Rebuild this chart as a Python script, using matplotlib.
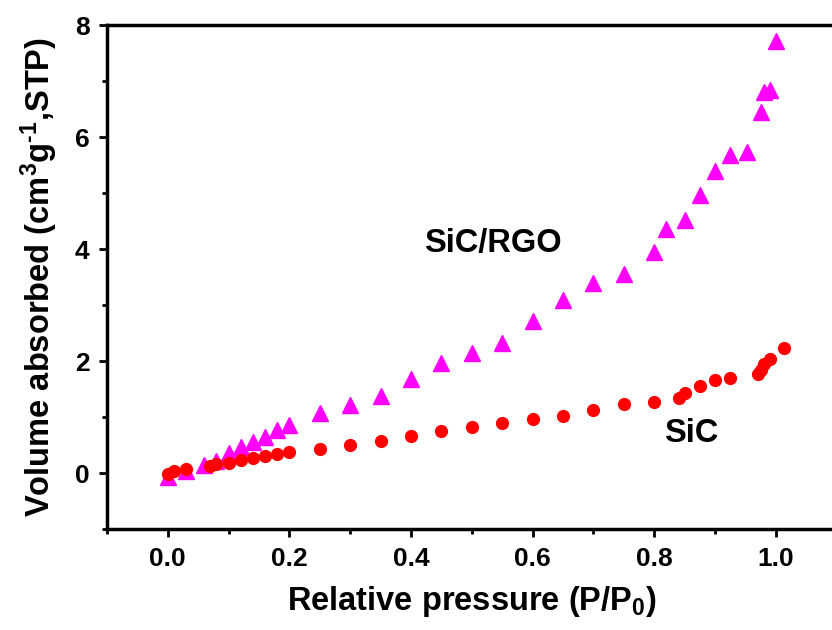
import matplotlib
matplotlib.use("Agg")
import matplotlib.pyplot as plt
from matplotlib.ticker import MultipleLocator

plt.rcParams['font.family'] = ['Liberation Sans', 'DejaVu Sans']
plt.rcParams['font.weight'] = 'bold'
plt.rcParams['mathtext.fontset'] = 'custom'
plt.rcParams['mathtext.rm'] = 'Liberation Sans:bold'
plt.rcParams['mathtext.bf'] = 'Liberation Sans:bold'
plt.rcParams['mathtext.default'] = 'bf'

# SiC/RGO (triangles)
rgo_x = [0.0, 0.03, 0.06, 0.08, 0.10, 0.12, 0.14, 0.16, 0.18, 0.20, 0.25, 0.30, 0.35,
         0.40, 0.45, 0.50, 0.55, 0.60, 0.65, 0.70, 0.75, 0.80, 0.82, 0.85, 0.875,
         0.90, 0.925, 0.952, 0.975, 0.98, 0.99, 1.0]
rgo_y = [-0.07, 0.04, 0.15, 0.22, 0.36, 0.46, 0.56, 0.65, 0.77, 0.86, 1.07, 1.21, 1.38,
         1.69, 1.97, 2.15, 2.33, 2.71, 3.09, 3.39, 3.55, 3.95, 4.36, 4.52, 4.96,
         5.39, 5.69, 5.74, 6.45, 6.81, 6.84, 7.72]

# SiC (circles)
sic_x = [0.0, 0.01, 0.03, 0.07, 0.08, 0.10, 0.12, 0.14, 0.16, 0.18, 0.20, 0.25, 0.30,
         0.35, 0.40, 0.45, 0.50, 0.55, 0.60, 0.65, 0.70, 0.75, 0.80, 0.84, 0.85,
         0.875, 0.90, 0.925, 0.97, 0.975, 0.98, 0.99, 1.013]
sic_y = [-0.01, 0.04, 0.07, 0.13, 0.16, 0.19, 0.23, 0.27, 0.30, 0.34, 0.38, 0.44, 0.50,
         0.58, 0.67, 0.75, 0.82, 0.89, 0.96, 1.02, 1.13, 1.24, 1.28, 1.35, 1.44,
         1.55, 1.67, 1.70, 1.77, 1.85, 1.95, 2.04, 2.23]

fig = plt.figure(figsize=(8.32, 6.30), dpi=100)
ax = fig.add_axes([0.1286, 0.160, 0.877, 0.800])

ax.plot(rgo_x, rgo_y, linestyle='none', marker='^', color='#ff00ff', markersize=11)
ax.plot(sic_x, sic_y, linestyle='none', marker='o', color='#ff0000', markersize=8.5)

ax.set_xlim(-0.1, 1.1)
ax.set_ylim(-1, 8)
ax.xaxis.set_major_locator(MultipleLocator(0.2))
ax.xaxis.set_minor_locator(MultipleLocator(0.1))
ax.yaxis.set_major_locator(MultipleLocator(2))
ax.yaxis.set_minor_locator(MultipleLocator(1))
ax.set_xticks([0.0, 0.2, 0.4, 0.6, 0.8, 1.0])
ax.set_xticklabels(['0.0', '0.2', '0.4', '0.6', '0.8', '1.0'])

for s in ax.spines.values():
    s.set_linewidth(2.5)
ax.tick_params(which='major', direction='out', length=5.5, width=2, labelsize=19, pad=7)
ax.tick_params(which='minor', direction='out', length=3.5, width=2)
ax.tick_params(top=False, right=False)

ax.set_xlabel(r'Relative pressure (P/P$_\mathbf{0}$)', fontsize=23.5, fontweight='bold', labelpad=10)
ax.set_ylabel(r'Volume absorbed (cm$^\mathbf{3}$g$^{\text{-}\mathbf{1}}$,STP)', fontsize=23.5,
              fontweight='bold', labelpad=11)

ax.text(0.535, 4.1, 'SiC/RGO', fontsize=23.5, fontweight='bold', ha='center', va='center')
ax.text(0.86, 0.7, 'SiC', fontsize=23.5, fontweight='bold', ha='center', va='center')

fig.savefig('out.png', dpi=100)
